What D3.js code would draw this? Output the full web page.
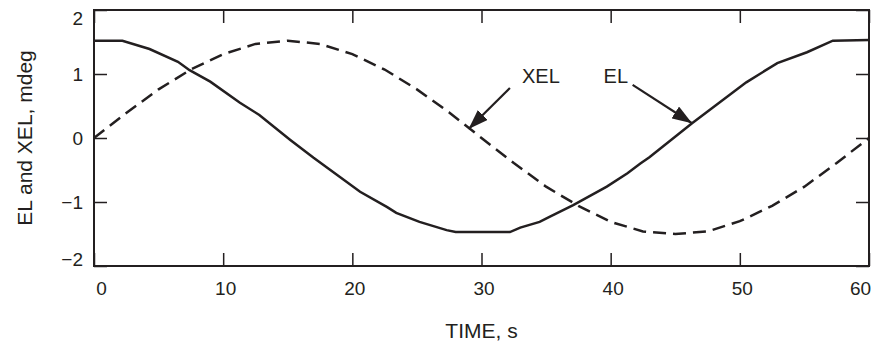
<!DOCTYPE html>
<html lang="en">
<head>
  <meta charset="UTF-8">
  <title>EL and XEL vs time</title>
  <script src="https://d3js.org/d3.v7.min.js"></script>
  <style>
    body { margin: 0; background: #fff; }
    text { font-family: "Liberation Sans", Arial, sans-serif; fill: #231f20; }
    .tick line { stroke: #231f20; stroke-width: 1.5px; }
    .tick text { font-size: 19px; }
    .frame { fill: none; stroke: #231f20; stroke-width: 2px; }
    .curve { fill: none; stroke: #231f20; stroke-width: 2.5px; }
    .title { font-size: 21px; }
    .note { font-size: 20px; }
  </style>
</head>
<body>
<svg id="chart" width="873" height="347"></svg>
<script>
  // time, s
  const elTime = [0, 2.2, 4.3, 6.5, 7.4, 9.0, 11.3, 12.8, 15.2, 17.0, 20.6, 22.7, 23.4, 25.2, 27.3, 28.0,
                  32.2, 33.0, 34.5, 35.3, 37.1, 39.7, 41.3, 42.3, 43.0, 46.3, 50.5, 52.9, 55.2, 57.2, 60];
  // EL, mdeg (solid)
  const elValue = [1.52, 1.52, 1.39, 1.19, 1.06, 0.88, 0.55, 0.36, -0.03, -0.31, -0.84, -1.08, -1.17, -1.31, -1.44, -1.47,
                   -1.47, -1.40, -1.31, -1.23, -1.05, -0.76, -0.55, -0.40, -0.30, 0.23, 0.87, 1.17, 1.34, 1.52, 1.53];

  const xelTime = [0, 2.5, 5, 7.5, 10, 12.5, 15, 17.5, 20, 22.5, 25, 27.5, 30,
                   32.5, 35, 37.5, 40, 42.5, 45, 47.5, 50, 52.5, 55, 57.5, 60];
  // XEL, mdeg (dashed)
  const xelValue = [0, 0.39, 0.76, 1.07, 1.31, 1.47, 1.52, 1.47, 1.31, 1.07, 0.76, 0.40, 0,
                    -0.39, -0.76, -1.06, -1.31, -1.46, -1.50, -1.46, -1.30, -1.06, -0.76, -0.39, 0];

  const xTicks = [0, 10, 20, 30, 40, 50, 60];
  const yTicks = [-2, -1, 0, 1, 2];

  // arrow labels: text position, tail and tip in data units
  const notes = [
    { label: "XEL", tx: 34.6, ty: 0.86, x1: 32.2, y1: 0.78, x2: 29.0, y2: 0.14 },
    { label: "EL",  tx: 40.4, ty: 0.86, x1: 41.7, y1: 0.83, x2: 46.3, y2: 0.23 }
  ];

  const svg = d3.select("#chart");
  const mLeft = 94, mRight = 869, mTop = 10, mBottom = 266;

  const x = d3.scaleLinear().domain([0, 60]).range([mLeft, mRight]);
  const y = d3.scaleLinear().domain([-2, 2]).range([mBottom, mTop]);

  svg.append("defs").append("marker")
    .attr("id", "head")
    .attr("viewBox", "0 -7 20 14")
    .attr("refX", 20).attr("refY", 0)
    .attr("markerWidth", 20).attr("markerHeight", 14)
    .attr("markerUnits", "userSpaceOnUse")
    .attr("orient", "auto")
    .append("path").attr("d", "M0,-7L20,0L0,7Z").attr("fill", "#231f20");

  // axes with inward ticks on all four sides
  const gx = svg.append("g").attr("transform", `translate(0,${mBottom})`)
    .call(d3.axisBottom(x).tickValues(xTicks).tickSize(-13).tickPadding(16));
  gx.selectAll(".tick text")
    .attr("dx", d => d === 0 ? 7 : d === 60 ? -9 : 2);

  svg.append("g").attr("transform", `translate(0,${mTop})`)
    .call(d3.axisTop(x).tickValues(xTicks).tickSize(-13).tickFormat(""));

  const gy = svg.append("g").attr("transform", `translate(${mLeft},0)`)
    .call(d3.axisLeft(y).tickValues(yTicks).tickSize(-13).tickPadding(11)
      .tickFormat(d => d < 0 ? "\u2212" + Math.abs(d) : d));
  // end labels sit inside the frame height
  gy.selectAll(".tick text")
    .attr("y", d => d === 2 ? 8 : d === -2 ? -7 : 0);

  svg.append("g").attr("transform", `translate(${mRight},0)`)
    .call(d3.axisRight(y).tickValues(yTicks).tickSize(-13).tickFormat(""));

  svg.selectAll(".domain").remove();

  svg.append("rect").attr("class", "frame")
    .attr("x", mLeft).attr("y", mTop)
    .attr("width", mRight - mLeft).attr("height", mBottom - mTop);

  const line = d3.line().x(d => x(d[0])).y(d => y(d[1]));

  svg.append("path").attr("class", "curve")
    .attr("d", line(d3.zip(xelTime, xelValue)))
    .attr("stroke-dasharray", "13,7");

  svg.append("path").attr("class", "curve")
    .attr("d", line(d3.zip(elTime, elValue)));

  // annotations
  notes.forEach(n => {
    svg.append("line")
      .attr("x1", x(n.x1)).attr("y1", y(n.y1))
      .attr("x2", x(n.x2)).attr("y2", y(n.y2))
      .attr("stroke", "#231f20").attr("stroke-width", 2.2)
      .attr("marker-end", "url(#head)");
    svg.append("text").attr("class", "note")
      .attr("x", x(n.tx)).attr("y", y(n.ty))
      .attr("text-anchor", "middle")
      .text(n.label);
  });

  // axis titles
  svg.append("text").attr("class", "title")
    .attr("x", (mLeft + mRight) / 2).attr("y", 338)
    .attr("text-anchor", "middle")
    .text("TIME, s");

  svg.append("text").attr("class", "title")
    .attr("transform", `translate(32,${(mTop + mBottom) / 2}) rotate(-90)`)
    .attr("text-anchor", "middle")
    .text("EL and XEL, mdeg");
</script>
</body>
</html>
